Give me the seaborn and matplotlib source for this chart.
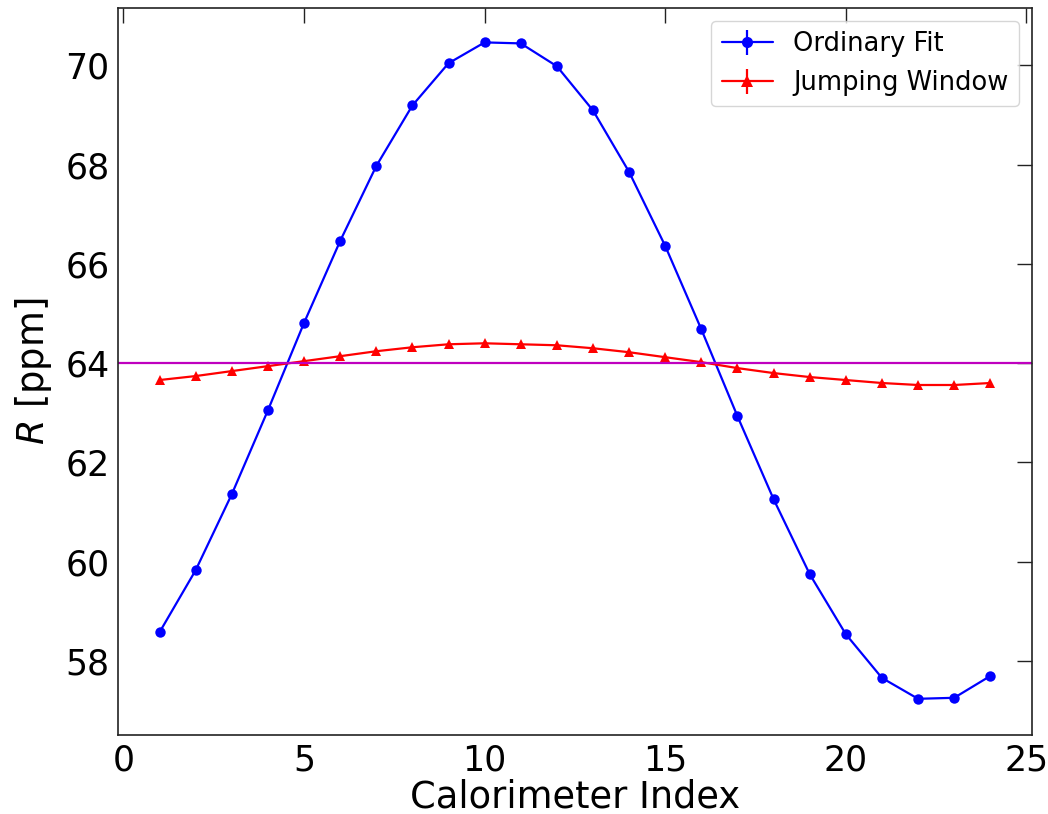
import numpy as np
import pandas as pd
import matplotlib
matplotlib.use("Agg")
import matplotlib.pyplot as plt
from matplotlib.lines import Line2D
import seaborn as sns

# Calorimeter stations
calo = list(range(1, 25))

# R values from the ordinary fit (ppm)
r_ordinary = [58.58, 59.83, 61.36, 63.05, 64.81, 66.46, 67.97, 69.19, 70.04, 70.46,
              70.44, 69.98, 69.09, 67.85, 66.36, 64.68, 62.93, 61.26, 59.75, 58.54,
              57.66, 57.24, 57.26, 57.70]
err_ordinary = [0.05] * 24

# R values from the jumping-window method (ppm)
r_jumping = [63.66, 63.74, 63.84, 63.94, 64.04, 64.14, 64.24, 64.32, 64.38, 64.40,
             64.38, 64.36, 64.30, 64.22, 64.12, 64.02, 63.90, 63.80, 63.72, 63.66,
             63.60, 63.56, 63.56, 63.60]
err_jumping = [0.03] * 24

# Injected reference value
r_true = 64.0

df = pd.DataFrame({"calo": calo, "ordinary": r_ordinary, "jumping": r_jumping})

sns.set_theme(style="white")
plt.rcParams["font.family"] = ["DejaVu Sans"]
plt.rcParams["text.color"] = "black"
plt.rcParams["axes.labelcolor"] = "black"
plt.rcParams["xtick.color"] = "black"
plt.rcParams["ytick.color"] = "black"

fig = plt.figure(figsize=(10.48, 8.14), dpi=100)
ax = fig.add_axes([0.1126, 0.097, 0.872, 0.893])

sns.lineplot(data=df, x="calo", y="ordinary", ax=ax, color="blue", marker="o",
             markersize=7.5, markeredgewidth=0, linewidth=1.6, legend=False)
ax.errorbar(calo, r_ordinary, yerr=err_ordinary, fmt="none", ecolor="blue", elinewidth=1.6)

sns.lineplot(data=df, x="calo", y="jumping", ax=ax, color="red", marker="^",
             markersize=7.5, markeredgewidth=0, linewidth=1.6, legend=False)
ax.errorbar(calo, r_jumping, yerr=err_jumping, fmt="none", ecolor="red", elinewidth=1.6)

ax.axhline(r_true, color="#bf00bf", linewidth=1.6)

ax.set_xlabel("Calorimeter Index", fontsize=26.5, labelpad=1)
ax.set_ylabel("$R$ [ppm]", fontsize=26.5, labelpad=8)
ax.set_xticks([0, 5, 10, 15, 20, 25])
ax.set_yticks([58, 60, 62, 64, 66, 68, 70])
ax.set_xlim(-0.15, 25.15)
ax.set_ylim(56.51, 71.15)
ax.tick_params(direction="in", length=11, width=1, labelsize=25,
               top=True, right=True, color="#222222", pad=6)
for s in ax.spines.values():
    s.set_color("#222222")
    s.set_linewidth(1.2)

h_ord = (Line2D([], [], color="blue", marker="o", markersize=8, markeredgewidth=0, linewidth=1.6),
         Line2D([], [], color="blue", marker="|", markersize=18, markeredgewidth=1.6, linestyle="none"))
h_jmp = (Line2D([], [], color="red", marker="^", markersize=8, markeredgewidth=0, linewidth=1.6),
         Line2D([], [], color="red", marker="|", markersize=18, markeredgewidth=1.6, linestyle="none"))
ax.legend([h_ord, h_jmp], ["Ordinary Fit", "Jumping Window"], loc="upper right",
          fontsize=18.5, frameon=True, handlelength=2.0)

fig.savefig("out.png", dpi=100)
